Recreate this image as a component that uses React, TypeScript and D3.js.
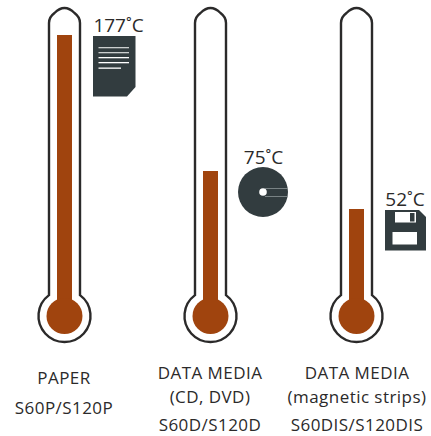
import React from "react";
import * as d3 from "d3";

const temps = [177, 75, 52];
const tempLabels = ["177˚C", "75˚C", "52˚C"];
const centers = ["paper", "disc", "floppy"];
const titleLines = [
  ["PAPER", "S60P/S120P"],
  ["DATA MEDIA", "(CD, DVD)", "S60D/S120D"],
  ["DATA MEDIA", "(magnetic strips)", "S60DIS/S120DIS"],
];

const x = d3.scalePoint<string>().domain(centers).range([64.5, 356.5]);
const y = d3.scaleLinear().domain([52, 75, 177]).range([209, 171, 35]);

const RED = "#a0440e";
const DARK = "#323c3f";
const STROKE = "#2b2a2a";
const FONT = "'Open Sans', 'Noto Sans', sans-serif";

function tubePath(cx: number) {
  const w = 15.5, top = 8, by = 316, r = 26;
  const yj = by - Math.sqrt(r * r - w * w);
  return `M${cx - w},${yj} L${cx - w},${top + 15} Q${cx - w},${top + 9} ${cx - 10},${top + 5} Q${cx - 5},${top} ${cx},${top} Q${cx + 5},${top} ${cx + 10},${top + 5} Q${cx + w},${top + 9} ${cx + w},${top + 15} L${cx + w},${yj} A${r},${r} 0 1 1 ${cx - w},${yj} Z`;
}

const PaperIcon = () => (
  <g>
    <path d="M93,36 H135.500 V87 L127,96.500 H93 Z" fill={DARK} />
    {[48, 53, 58, 63].map((v) => (
      <rect key={v} x={98.5} y={v - 1} width={30.5} height={1.3} fill="#fff" opacity={v < 58 ? 0.75 : 1} />
    ))}
    <rect x={98.500} y={67.500} width={22.5} height={1.300} fill="#fff" />
  </g>
);

const DiscIcon = () => (
  <g>
    <circle cx={263} cy={192} r={25} fill={DARK} />
    <circle cx={263} cy={192} r={3.8} fill="#fff" />
    <path d="M265,188.500 H288 M265,196.500 H288" stroke="#8b9496" strokeWidth={0.8} />
  </g>
);

const FloppyIcon = () => (
  <g>
    <path d="M385,210 H419 L426,217 V250.500 H385 Z" fill={DARK} />
    <rect x={395} y={212} width={21} height={10.500} fill="#fff" />
    <rect x={410} y={213} width={4.5} height={8.500} fill={DARK} />
    <rect x={392.500} y={232} width={24.5} height={12.500} fill="#fff" />
  </g>
);

const icons = [<PaperIcon />, <DiscIcon />, <FloppyIcon />];
const labelX = [118.500, 263.500, 405];
const labelY = [32, 164, 206];
const titleX = [64, 210, 357];

export default function App() {
  return (
    <svg
      width={431}
      height={436}
      viewBox="0 0 431 436"
      style={{ position: "absolute", left: 0, top: 0, background: "#fff" }}
      fontFamily={FONT}
    >
      {centers.map((c, i) => {
        const cx = x(c)!;
        const t = y(temps[i]);
        return (
          <g key={c}>
            <path d={tubePath(cx)} fill="#fff" stroke={STROKE} strokeWidth={2.4} />
            <rect x={cx - 7.5} y={t} width={15} height={300 - t} fill={RED} />
            <circle cx={cx} cy={316} r={18} fill={RED} />
            {icons[i]}
            <text x={labelX[i]} y={labelY[i]} textAnchor="middle" fontSize={19} fontWeight={400} fill="#2b2a2a">
              {tempLabels[i]}
            </text>
          </g>
        );
      })}
      {titleLines.map((lines, i) => {
        const ys = lines.length === 2 ? [384, 414] : [379, 403, 431];
        return (
          <g key={i}>
            {lines.map((l, j) => (
              <text key={j} x={titleX[i]} y={ys[j]} textAnchor="middle" fontSize={17} letterSpacing={0.45} fill="#2b2a2a">
                {l}
              </text>
            ))}
          </g>
        );
      })}
    </svg>
  );
}
